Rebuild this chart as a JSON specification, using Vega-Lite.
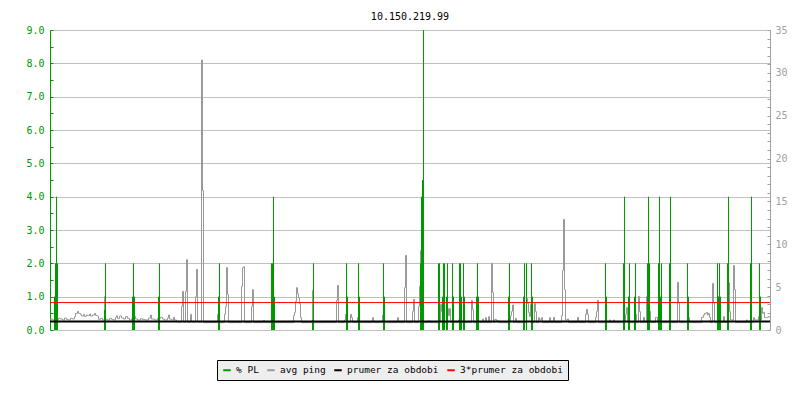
{
"$schema":"https://vega.github.io/schema/vega-lite/v6.json",
"width":720,"height":300,
"autosize":"none",
"padding":{"left":50,"top":30,"right":30,"bottom":70},
"background":"white",
"title":{"text":"10.150.219.99","fontSize":10,"fontWeight":"normal","color":"#000000","font":"DejaVu Sans Mono","offset":-5,"baseline":"alphabetic","anchor":"middle"},
"datasets":{
"ping":[
{"t":0,"ping":1.28},{"t":5,"ping":1.17},{"t":9,"ping":1.40},{"t":13,"ping":1.21},{"t":17,"ping":1.36},{"t":21,"ping":1.28},{"t":25,"ping":1.17},{"t":29,"ping":1.40},{"t":33,"ping":1.24},{"t":37,"ping":1.17},{"t":41,"ping":1.36},{"t":45,"ping":1.28},{"t":49,"ping":1.56},{"t":51,"ping":1.94},{"t":55,"ping":2.18},{"t":57,"ping":1.94},{"t":61,"ping":1.79},{"t":63,"ping":1.63},{"t":67,"ping":1.83},{"t":69,"ping":1.59},{"t":73,"ping":1.75},{"t":75,"ping":1.67},{"t":79,"ping":1.87},{"t":81,"ping":1.63},{"t":85,"ping":1.75},{"t":89,"ping":1.94},{"t":91,"ping":1.71},{"t":95,"ping":1.63},{"t":97,"ping":1.24},{"t":101,"ping":1.36},{"t":105,"ping":1.17},{"t":109,"ping":3.89},{"t":111,"ping":1.24},{"t":115,"ping":1.17},{"t":119,"ping":1.36},{"t":123,"ping":1.24},{"t":127,"ping":1.17},{"t":131,"ping":1.48},{"t":133,"ping":1.67},{"t":135,"ping":1.32},{"t":139,"ping":1.63},{"t":143,"ping":1.40},{"t":147,"ping":1.28},{"t":151,"ping":1.56},{"t":155,"ping":1.36},{"t":159,"ping":1.17},{"t":163,"ping":1.32},{"t":167,"ping":1.59},{"t":171,"ping":1.28},{"t":175,"ping":1.17},{"t":181,"ping":1.32},{"t":185,"ping":1.21},{"t":191,"ping":1.17},{"t":197,"ping":1.40},{"t":201,"ping":1.75},{"t":203,"ping":1.28},{"t":209,"ping":1.17},{"t":215,"ping":1.36},{"t":221,"ping":1.48},{"t":225,"ping":1.28},{"t":229,"ping":1.17},{"t":235,"ping":1.40},{"t":237,"ping":1.75},{"t":239,"ping":1.28},{"t":243,"ping":1.17},{"t":247,"ping":1.48},{"t":249,"ping":1.17},{"t":253,"ping":0.93},{"t":263,"ping":2.76},{"t":265,"ping":4.51},{"t":267,"ping":0.93},{"t":271,"ping":4.51},{"t":273,"ping":8.21},{"t":275,"ping":0.93},{"t":281,"ping":1.83},{"t":283,"ping":0.93},{"t":291,"ping":3.89},{"t":293,"ping":7.08},{"t":295,"ping":0.93},{"t":303,"ping":31.5},{"t":305,"ping":16.29},{"t":307,"ping":0.86},{"t":335,"ping":1.83},{"t":339,"ping":0.86},{"t":349,"ping":1.83},{"t":351,"ping":2.72},{"t":353,"ping":7.27},{"t":355,"ping":4.16},{"t":357,"ping":0.86},{"t":371,"ping":0.97},{"t":373,"ping":0.86},{"t":383,"ping":5.09},{"t":385,"ping":7.27},{"t":387,"ping":7.39},{"t":389,"ping":0.86},{"t":403,"ping":2.76},{"t":405,"ping":4.71},{"t":407,"ping":0.86},{"t":427,"ping":1.13},{"t":429,"ping":0.86},{"t":443,"ping":6.69},{"t":445,"ping":3.77},{"t":447,"ping":0.86},{"t":465,"ping":1.01},{"t":467,"ping":0.86},{"t":487,"ping":1.67},{"t":489,"ping":2.06},{"t":491,"ping":3.34},{"t":493,"ping":4.94},{"t":495,"ping":4.24},{"t":497,"ping":3.77},{"t":499,"ping":3.07},{"t":501,"ping":1.44},{"t":503,"ping":0.86},{"t":525,"ping":4.63},{"t":527,"ping":0.86},{"t":551,"ping":1.01},{"t":553,"ping":0.86},{"t":573,"ping":3.46},{"t":575,"ping":5.21},{"t":577,"ping":0.86},{"t":589,"ping":1.17},{"t":591,"ping":1.83},{"t":593,"ping":0.86},{"t":601,"ping":1.83},{"t":603,"ping":1.44},{"t":605,"ping":0.86},{"t":615,"ping":1.44},{"t":617,"ping":0.86},{"t":645,"ping":1.44},{"t":647,"ping":0.86},{"t":665,"ping":1.75},{"t":667,"ping":2.18},{"t":669,"ping":0.86},{"t":695,"ping":1.44},{"t":697,"ping":0.86},{"t":709,"ping":4.94},{"t":711,"ping":8.71},{"t":713,"ping":0.86},{"t":725,"ping":2.18},{"t":727,"ping":3.58},{"t":729,"ping":0.86},{"t":737,"ping":2.76},{"t":739,"ping":5.09},{"t":741,"ping":9.29},{"t":743,"ping":0.86},{"t":757,"ping":1.09},{"t":759,"ping":0.86},{"t":781,"ping":2.99},{"t":783,"ping":2.18},{"t":785,"ping":0.86},{"t":795,"ping":2.49},{"t":797,"ping":1.67},{"t":799,"ping":2.49},{"t":801,"ping":0.86},{"t":817,"ping":1.17},{"t":819,"ping":0.86},{"t":843,"ping":3.46},{"t":845,"ping":2.41},{"t":847,"ping":0.86},{"t":855,"ping":1.09},{"t":857,"ping":0.86},{"t":865,"ping":1.28},{"t":867,"ping":0.86},{"t":871,"ping":1.44},{"t":873,"ping":0.86},{"t":877,"ping":1.56},{"t":879,"ping":0.86},{"t":883,"ping":7.78},{"t":885,"ping":4.39},{"t":887,"ping":0.86},{"t":889,"ping":1.24},{"t":893,"ping":1.09},{"t":897,"ping":0.86},{"t":921,"ping":1.67},{"t":923,"ping":2.18},{"t":925,"ping":2.92},{"t":927,"ping":0.86},{"t":931,"ping":1.36},{"t":933,"ping":0.86},{"t":953,"ping":3.69},{"t":955,"ping":3.11},{"t":957,"ping":2.02},{"t":959,"ping":1.56},{"t":961,"ping":2.99},{"t":963,"ping":0.86},{"t":969,"ping":3.11},{"t":971,"ping":2.14},{"t":973,"ping":0.86},{"t":977,"ping":1.44},{"t":979,"ping":1.17},{"t":983,"ping":1.44},{"t":985,"ping":0.86},{"t":999,"ping":1.44},{"t":1001,"ping":0.86},{"t":1007,"ping":1.48},{"t":1009,"ping":0.86},{"t":1023,"ping":1.67},{"t":1025,"ping":6.96},{"t":1027,"ping":12.91},{"t":1029,"ping":4.71},{"t":1031,"ping":1.17},{"t":1035,"ping":1.28},{"t":1037,"ping":0.86},{"t":1055,"ping":1.48},{"t":1057,"ping":0.86},{"t":1071,"ping":1.83},{"t":1073,"ping":2.41},{"t":1075,"ping":1.83},{"t":1077,"ping":0.86},{"t":1091,"ping":1.48},{"t":1093,"ping":2.18},{"t":1095,"ping":3.46},{"t":1097,"ping":0.86},{"t":1119,"ping":1.17},{"t":1121,"ping":0.86},{"t":1127,"ping":1.17},{"t":1129,"ping":0.86},{"t":1151,"ping":1.83},{"t":1153,"ping":2.61},{"t":1155,"ping":0.86},{"t":1169,"ping":2.99},{"t":1171,"ping":1.83},{"t":1173,"ping":0.86},{"t":1177,"ping":3.93},{"t":1179,"ping":2.14},{"t":1181,"ping":0.86},{"t":1187,"ping":1.48},{"t":1189,"ping":0.86},{"t":1193,"ping":3.89},{"t":1195,"ping":0.86},{"t":1199,"ping":2.18},{"t":1201,"ping":0.86},{"t":1211,"ping":1.48},{"t":1215,"ping":0.86},{"t":1221,"ping":2.18},{"t":1223,"ping":0.86},{"t":1255,"ping":5.56},{"t":1257,"ping":3.19},{"t":1259,"ping":0.86},{"t":1275,"ping":1.67},{"t":1277,"ping":1.48},{"t":1279,"ping":0.86},{"t":1303,"ping":1.48},{"t":1307,"ping":1.75},{"t":1309,"ping":1.94},{"t":1313,"ping":2.06},{"t":1315,"ping":1.75},{"t":1317,"ping":1.94},{"t":1319,"ping":1.48},{"t":1321,"ping":0.86},{"t":1325,"ping":5.44},{"t":1327,"ping":3.19},{"t":1329,"ping":0.86},{"t":1337,"ping":3.89},{"t":1339,"ping":1.67},{"t":1341,"ping":0.86},{"t":1347,"ping":1.56},{"t":1349,"ping":0.86},{"t":1357,"ping":5.52},{"t":1359,"ping":2.14},{"t":1361,"ping":1.17},{"t":1367,"ping":7.54},{"t":1369,"ping":4.71},{"t":1371,"ping":0.86},{"t":1393,"ping":1.17},{"t":1395,"ping":0.86},{"t":1407,"ping":1.44},{"t":1409,"ping":1.17},{"t":1417,"ping":1.56},{"t":1419,"ping":1.17},{"t":1423,"ping":2.61},{"t":1425,"ping":1.94},{"t":1427,"ping":2.06},{"t":1429,"ping":1.44},{"t":1433,"ping":1.48},{"t":1437,"ping":1.56},{"t":1440,"ping":1.56}
],
"pl":[
{"t":9,"pl":1.0},{"t":11,"pl":2.0},{"t":13,"pl":4.0},{"t":15,"pl":2.0},
{"t":109,"pl":0.6},{"t":111,"pl":2.0},
{"t":165,"pl":1.0},{"t":167,"pl":2.0},{"t":169,"pl":1.0},
{"t":217,"pl":1.0},{"t":219,"pl":2.0},
{"t":337,"pl":1.0},{"t":339,"pl":2.0},
{"t":443,"pl":2.0},{"t":445,"pl":2.0},{"t":447,"pl":4.0},{"t":449,"pl":1.0},
{"t":525,"pl":0.3},{"t":527,"pl":2.0},
{"t":593,"pl":2.0},{"t":595,"pl":1.0},
{"t":617,"pl":2.0},{"t":619,"pl":1.0},
{"t":667,"pl":2.0},{"t":669,"pl":1.0},
{"t":741,"pl":2.0},{"t":743,"pl":4.0},{"t":745,"pl":4.5},{"t":747,"pl":9.0},
{"t":777,"pl":2.0},{"t":779,"pl":2.0},
{"t":785,"pl":1.0},{"t":787,"pl":2.0},{"t":789,"pl":2.0},
{"t":793,"pl":1.0},{"t":795,"pl":2.0},
{"t":805,"pl":2.0},{"t":807,"pl":1.0},
{"t":819,"pl":2.0},{"t":821,"pl":2.0},{"t":823,"pl":1.0},
{"t":827,"pl":2.0},{"t":829,"pl":1.0},
{"t":853,"pl":1.0},{"t":855,"pl":2.0},{"t":857,"pl":1.0},
{"t":917,"pl":1.0},{"t":919,"pl":2.0},
{"t":947,"pl":1.0},{"t":949,"pl":2.0},{"t":953,"pl":2.0},
{"t":963,"pl":2.0},{"t":965,"pl":1.0},
{"t":1111,"pl":2.0},{"t":1113,"pl":1.0},
{"t":1147,"pl":2.0},{"t":1149,"pl":4.0},
{"t":1157,"pl":1.0},{"t":1159,"pl":2.0},
{"t":1169,"pl":1.0},{"t":1171,"pl":2.0},
{"t":1195,"pl":2.0},{"t":1197,"pl":4.0},{"t":1199,"pl":2.0},
{"t":1217,"pl":2.0},{"t":1219,"pl":4.0},{"t":1221,"pl":1.0},{"t":1223,"pl":2.0},
{"t":1239,"pl":2.0},{"t":1241,"pl":4.0},
{"t":1275,"pl":2.0},{"t":1277,"pl":1.0},
{"t":1335,"pl":2.0},{"t":1337,"pl":1.0},{"t":1339,"pl":2.0},{"t":1341,"pl":1.0},
{"t":1355,"pl":2.0},{"t":1357,"pl":4.0},
{"t":1401,"pl":2.0},{"t":1403,"pl":4.0},
{"t":1419,"pl":2.0},{"t":1421,"pl":1.0}
]
},
"layer":[
{"data":{"name":"ping"},
 "mark":{"type":"line","interpolate":"step-after","strokeWidth":1},
 "encoding":{
  "x":{"field":"t","type":"quantitative","scale":{"domain":[0,1440],"nice":false,"zero":false},
   "axis":{"values":[0,121.6,243.2,364.8,486.4,608,729.6,851.2,972.8,1094.4,1216,1337.6],
    "labelExpr":"['18:56','20:58','23:00','01:01','03:02','05:03','07:04','09:05','11:06','13:08','15:09','17:11'][round(datum.value/121.6)]",
    "title":null,"grid":false,"domainColor":"#000000","tickColor":"#000000","tickSize":-4,"labelPadding":10,"labelFlush":false,"labelOverlap":false,"labelColor":"#000000"}},
  "y":{"field":"ping","type":"quantitative","scale":{"domain":[0,35],"nice":false,"zero":true},
   "axis":{"orient":"right","values":[0,1,2,3,4,5,6,7,8,9,10,11,12,13,14,15,16,17,18,19,20,21,22,23,24,25,26,27,28,29,30,31,32,33,34,35],
    "labelExpr":"datum.value % 5 == 0 ? datum.label : ''","title":null,"grid":false,"domainColor":"#a0a0a0","tickColor":"#a0a0a0","labelColor":"#a0a0a0","tickSize":-3,"labelPadding":8,"labelFlush":false,"labelOverlap":false}},
  "color":{"datum":"avg ping","scale":{"domain":["% PL","avg ping","prumer za obdobi","3*prumer za obdobi"],"range":["#009900","#999999","#000000","#ff0000"]},"legend":{"title":null}}
 }},
{"data":{"name":"pl"},
 "mark":{"type":"rule","strokeWidth":1},
 "encoding":{
  "x":{"field":"t","type":"quantitative","scale":{"domain":[0,1440],"nice":false,"zero":false},"axis":null},
  "y":{"field":"pl","type":"quantitative","scale":{"domain":[0,9],"nice":false,"zero":true},
   "axis":{"orient":"left","values":[0,0.5,1,1.5,2,2.5,3,3.5,4,4.5,5,5.5,6,6.5,7,7.5,8,8.5,9],
    "labelExpr":"datum.value % 1 == 0 ? format(datum.value, '.1f') : ''","title":null,
    "grid":true,"gridColor":"#c0c0c0","gridOpacity":{"condition":{"test":"datum.value % 1 == 0","value":1},"value":0},
    "domainColor":"#009900","tickColor":"#009900","labelColor":"#009900","tickSize":-3,"labelPadding":9,"labelFlush":false,"labelOverlap":false}},
  "y2":{"datum":0},
  "color":{"datum":"% PL","scale":{"domain":["% PL","avg ping","prumer za obdobi","3*prumer za obdobi"],"range":["#009900","#999999","#000000","#ff0000"]},"legend":{"title":null}}
 }},
{"layer":[
 {"data":{"values":[{"v":1.0}]},
  "mark":{"type":"rule","strokeWidth":2},
  "encoding":{
   "y":{"field":"v","type":"quantitative","scale":{"domain":[0,35],"nice":false,"zero":true},"axis":null},
   "color":{"datum":"prumer za obdobi","scale":{"domain":["% PL","avg ping","prumer za obdobi","3*prumer za obdobi"],"range":["#009900","#999999","#000000","#ff0000"]},"legend":{"title":null}}
  }},
 {"data":{"values":[{"v":3.2}]},
  "mark":{"type":"rule","strokeWidth":1},
  "encoding":{
   "y":{"field":"v","type":"quantitative","scale":{"domain":[0,35],"nice":false,"zero":true},"axis":null},
   "color":{"datum":"3*prumer za obdobi","scale":{"domain":["% PL","avg ping","prumer za obdobi","3*prumer za obdobi"],"range":["#009900","#999999","#000000","#ff0000"]},"legend":{"title":null}}
  }}
]}
],
"resolve":{"scale":{"y":"independent"},"axis":{"y":"independent"}},
"config":{
 "font":"DejaVu Sans Mono",
 "view":{"stroke":null},
 "axis":{"labelFont":"DejaVu Sans Mono","labelFontSize":10,"domainWidth":1,"tickWidth":1},
 "legend":{"orient":"none","legendX":167,"legendY":330,"direction":"horizontal","columns":4,
  "fillColor":"#eeeeee","strokeColor":"#000000","padding":5,"symbolType":"stroke","symbolSize":56,"symbolStrokeWidth":2,
  "labelFont":"DejaVu Sans Mono","labelFontSize":9.5,"labelColor":"#000000","labelOffset":4,"columnPadding":4}
}
}
